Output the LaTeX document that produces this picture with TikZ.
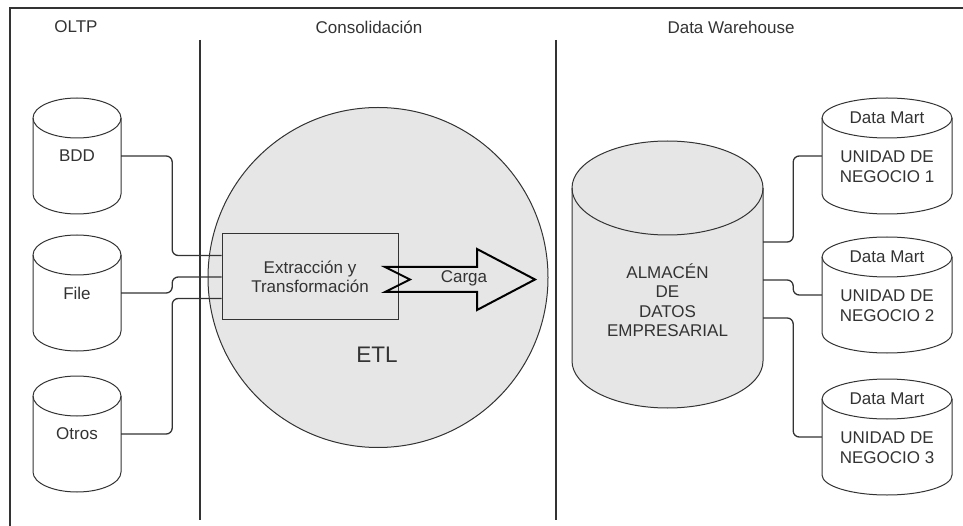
\documentclass[tikz,border=0pt]{standalone}
\usepackage{fontspec}
\setmainfont{Liberation Sans}
\usetikzlibrary{calc}
\definecolor{linegray}{HTML}{333333}
\definecolor{fillgray}{HTML}{E6E6E6}
\tikzset{
  outline/.style={draw=linegray, line width=1pt},
  conn/.style={draw=linegray, line width=1.3pt, rounded corners=6pt},
  lbl/.style={text=linegray, font=\fontsize{17}{19.5}\selectfont, align=center, inner sep=0pt},
  sep/.style={draw=linegray, line width=2pt},
}
% cylinder: [fill] {name} {top centre} {half width} {height} {cap radius}
\newcommand{\dbcyl}[6][white]{%
  \begin{scope}[shift={#3}]
    \draw[outline, fill=#1] (-#4,-#6) -- (-#4,-#5+#6) arc (180:360:#4pt and #6pt)
      -- (#4,-#6) arc (0:180:#4pt and #6pt) -- cycle;
    \draw[outline] (-#4,-#6) arc (180:360:#4pt and #6pt);
    \node[inner sep=0pt, minimum width=2*#4pt, minimum height=#5pt] (#2) at (0,-#5/2) {};
  \end{scope}}

\begin{document}
\begin{tikzpicture}[x=1pt, y=1pt]
  \useasboundingbox (0,0) rectangle (963,-526);
  \draw[draw=linegray, line width=1.5pt] (10,-526) -- (10,-8) -- (963,-8);
  \draw[sep] (200,-40) -- (200,-520);
  \draw[sep] (556,-40) -- (556,-520);
  \node[lbl] at (76,-27) {OLTP};
  \node[lbl] at (369,-27) {Consolidación};
  \node[lbl] at (731,-27) {Data Warehouse};

  % ETL
  \node[outline, fill=fillgray, circle, minimum size=340pt, inner sep=0pt] (etl) at (378,-277.5) {};
  \node[lbl, font=\fontsize{22.5}{26}\selectfont] (etltext) at (377,-355) {ETL};
  \node[outline, lbl, minimum width=176pt, minimum height=86pt] (ext) at (310,-277) {Extracción y\\Transformación};
  \draw[draw=black, line width=2pt] (385,-267) -- (477,-267) -- (477,-249) -- (535,-279.5)
    -- (477,-310) -- (477,-292) -- (385,-292) -- (410,-279.5) -- cycle;
  \node[lbl] (carga) at (464,-278) {Carga};

  % sources
  \dbcyl{bdd}{(77,-98)}{44}{116}{20}
  \dbcyl{file}{(77,-235)}{44}{116}{20}
  \dbcyl{otros}{(77,-376)}{44}{116}{20}
  \node[lbl] at (bdd) {BDD};
  \node[lbl] at (file) {File};
  \node[lbl] at (otros) {Otros};
  \draw[conn] (bdd.east) -- ++(51,0) |- ($(ext.west)+(0,21.5)$);
  \draw[conn] (file.east) -- ++(51,0) |- (ext.west);
  \draw[conn] (otros.east) -- ++(51,0) |- ($(ext.west)+(0,-21.5)$);

  % data warehouse
  \dbcyl[fillgray]{dw}{(667.5,-141)}{95.5}{267}{47}
  \node[lbl] at ($(dw)+(0,-25.5)$) {ALMACÉN\\DE\\DATOS\\EMPRESARIAL};
  \dbcyl{dm1}{(887,-98)}{65}{116}{20}
  \dbcyl{dm2}{(887,-237)}{65}{116}{20}
  \dbcyl{dm3}{(887,-379)}{65}{116}{20}
  \foreach \n in {1,2,3}{
    \node[lbl] at ($(dm\n.north)+(0,-20)$) {Data Mart};
    \node[lbl] at ($(dm\n.north)+(0,-69)$) {UNIDAD DE\\NEGOCIO \n};
  }
  \draw[conn] ($(dw.east)+(0,32.5)$) -- ++(30,0) |- (dm1.west);
  \draw[conn] ($(dw.east)+(0,-5.5)$) -- ++(30,0) |- (dm2.west);
  \draw[conn] ($(dw.east)+(0,-43.5)$) -- ++(30,0) |- (dm3.west);
\end{tikzpicture}
\end{document}
